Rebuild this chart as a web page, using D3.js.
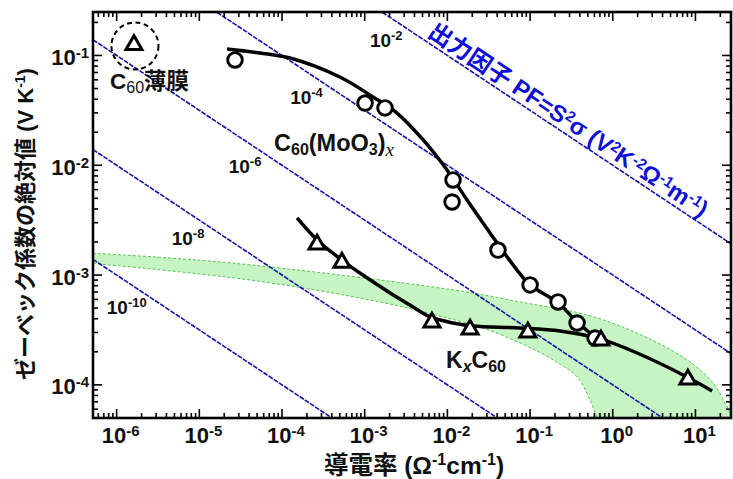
<!DOCTYPE html>
<html>
<head>
<meta charset="utf-8">
<script src="https://cdn.jsdelivr.net/npm/d3@7"></script>
<style>
  html, body { margin: 0; padding: 0; background: #fff; }
  svg { display: block; }
  text { font-family: "Liberation Sans", Arial, "Noto Sans CJK JP", sans-serif; font-weight: bold; }
</style>
</head>
<body>
<svg id="chart" width="733" height="479"></svg>
<script>
// ---- data: conductivity sigma (Ω^-1 cm^-1) vs |Seebeck coefficient| (V/K) ----

// C60(MoO3)x measured points
const mooxSigma   = [2.70e-5, 1.01e-3, 1.76e-3, 0.0117, 0.0114, 0.0409, 0.100, 0.218, 0.370, 0.611];
const mooxSeebeck = [0.091, 0.0369, 0.0333, 7.35e-3, 4.63e-3, 1.69e-3, 8.13e-4, 5.69e-4, 3.66e-4, 2.67e-4];

// C60(MoO3)x guide curve
const mooxFitSigma   = [2.16e-5, 5.4e-5, 1.25e-4, 5.0e-4, 1.26e-3, 2.46e-3, 5.1e-3, 9.9e-3, 0.0173, 0.0328, 0.0695, 0.100, 0.218, 0.370, 0.70];
const mooxFitSeebeck = [0.1146, 0.1054, 0.0948, 0.0637, 0.0419, 0.0299, 0.0170, 9.06e-3, 4.83e-3, 2.42e-3, 1.11e-3, 8.13e-4, 5.57e-4, 3.74e-4, 2.51e-4];

// KxC60 measured points
const kSigma   = [2.65e-4, 5.3e-4, 6.5e-3, 0.0188, 0.094, 0.72, 8.1];
const kSeebeck = [1.90e-3, 1.30e-3, 3.70e-4, 3.20e-4, 3.00e-4, 2.54e-4, 1.12e-4];

// KxC60 guide curve
const kFitSigma   = [1.52e-4, 2.65e-4, 5.3e-4, 9.5e-4, 2.03e-3, 3.85e-3, 6.2e-3, 0.0117, 0.0205, 0.0757, 0.231, 0.70, 1.97, 7.9, 15.9];
const kFitSeebeck = [3.31e-3, 2.09e-3, 1.37e-3, 1.0e-3, 6.87e-4, 5.12e-4, 4.15e-4, 3.66e-4, 3.44e-4, 3.30e-4, 3.10e-4, 2.62e-4, 1.95e-4, 1.18e-4, 8.8e-5];

// pristine C60 film
const filmSigma   = [1.62e-6];
const filmSeebeck = [0.1247];

// shaded region (upper and lower boundaries)
const bandUpperSigma   = [4.5e-7, 4.43e-6, 4.10e-5, 1.53e-3, 0.0204, 0.0755, 0.489, 1.96, 7.91, 16.3, 24.1, 28.5];
const bandUpperSeebeck = [1.59e-3, 1.43e-3, 1.24e-3, 9.02e-4, 6.87e-4, 5.69e-4, 4.33e-4, 2.96e-4, 1.69e-4, 1.04e-4, 6.30e-5, 4.9e-5];
const bandLowerSigma   = [4.5e-7, 4.10e-5, 1.53e-3, 9.9e-3, 0.0248, 0.0755, 0.190, 0.370, 0.531, 0.646];
const bandLowerSeebeck = [1.29e-3, 9.02e-4, 5.69e-4, 4.07e-4, 3.37e-4, 2.41e-4, 1.69e-4, 1.18e-4, 7.28e-5, 4.9e-5];

// power factor iso-lines PF = S^2 sigma (V^2 K^-2 Ω^-1 m^-1)
const pfValues    = [1e-2, 1e-4, 1e-6, 1e-8, 1e-10];
const pfExponents = ["-2", "-4", "-6", "-8", "-10"];

// tick labels
const xTickExps = [-6, -5, -4, -3, -2, -1, 0, 1];
const yTickExps = [-4, -3, -2, -1];

// ---- layout ----
const L = 93, R = 731, T = 12, B = 418;
const svg = d3.select("#chart");

const x = d3.scaleLog().domain([Math.pow(10, -6.286), Math.pow(10, 1.43)]).range([L, R]);
const y = d3.scaleLog().domain([Math.pow(10, -4.302), Math.pow(10, -0.604)]).range([B, T]);

svg.append("defs").append("clipPath").attr("id", "plotClip")
  .append("rect").attr("x", L).attr("y", T).attr("width", R - L).attr("height", B - T);

const plot = svg.append("g").attr("clip-path", "url(#plotClip)");

const toPts = (xs, ys) => xs.map((v, i) => [x(v), y(ys[i])]);
const smooth = d3.line().curve(d3.curveCatmullRom.alpha(0.5));

// text built from runs: [text, baseline shift, size, extra attributes]
function runs(t, parts) {
  let cur = 0;
  parts.forEach(([str, shift, size, extra]) => {
    const s = t.append("tspan").attr("dy", shift - cur).text(str);
    if (size) s.attr("font-size", size);
    if (extra) Object.entries(extra).forEach(([k, v]) => s.attr(k, v));
    cur = shift;
  });
  return t;
}

// shaded region
const upperPts = toPts(bandUpperSigma, bandUpperSeebeck);
const lowerPts = toPts(bandLowerSigma, bandLowerSeebeck);
const upperPath = smooth(upperPts);
const lowerRevPath = smooth(lowerPts.slice().reverse());
plot.append("path")
  .attr("d", upperPath + "L" + lowerRevPath.slice(1) + "Z")
  .attr("fill", "#c6f4c3").attr("stroke", "none");
[upperPath, smooth(lowerPts)].forEach(d => {
  plot.append("path").attr("d", d).attr("fill", "none")
    .attr("stroke", "#58c458").attr("stroke-width", 1).attr("stroke-dasharray", "3,2");
});

// power factor lines: sigma[S/cm] = PF / (100 S^2)
const sigmaOnPF = (pf, s) => pf / (100 * s * s);
const seebeckOnPF = (pf, sg) => Math.sqrt(pf / (100 * sg));
const [xs0, xs1] = x.domain();
pfValues.forEach(pf => {
  plot.append("line")
    .attr("x1", x(xs0)).attr("y1", y(seebeckOnPF(pf, xs0)))
    .attr("x2", x(xs1)).attr("y2", y(seebeckOnPF(pf, xs1)))
    .attr("stroke", "#1414a8").attr("stroke-width", 1.6).attr("stroke-dasharray", "5,1.2");
});

// labels of the power factor lines, set left of each line
const pfLabelSeebeck = [0.138, 0.0419, 9.86e-3, 2.18e-3, 5.12e-4];
pfValues.forEach((pf, i) => {
  const s = pfLabelSeebeck[i];
  const t = svg.append("text")
    .attr("x", x(sigmaOnPF(pf, s)) - 38).attr("y", y(s) + 7)
    .attr("text-anchor", "middle").attr("font-size", 19).attr("fill", "#111");
  runs(t, [["10", 0], [pfExponents[i], -7, 13]]);
});

// title along the PF = 1e-2 line
{
  const pf = pfValues[0];
  const sA = 0.237, sB = 2.0;
  const xA = x(sA), yA = y(seebeckOnPF(pf, sA));
  const xB = x(sB), yB = y(seebeckOnPF(pf, sB));
  const rad = Math.atan2(yB - yA, xB - xA);
  const ang = rad * 180 / Math.PI;
  const off = 5;
  const cx = xA + off * Math.sin(rad), cy = yA - off * Math.cos(rad);
  const fs = 20, sup = 13;
  const t = svg.append("text")
    .attr("transform", `translate(${cx},${cy}) rotate(${ang})`)
    .attr("text-anchor", "middle").attr("font-size", fs).attr("fill", "#0f0fd6");
  runs(t, [
    ["出力因子 PF=S", 0], ["2", -7, sup], ["σ (V", 0], ["2", -7, sup], ["K", 0],
    ["-2", -7, sup], ["Ω", 0], ["-1", -7, sup], ["m", 0], ["-1", -7, sup], [")", 0]
  ]);
  // fit the run to the length of the labelled stretch of line
  const len = t.node().getComputedTextLength();
  const k = 330 / len;
  t.attr("font-size", fs * k);
  t.selectAll("tspan").filter(function () { return this.getAttribute("font-size"); })
    .attr("font-size", sup * k);
}

// guide curves
[[mooxFitSigma, mooxFitSeebeck], [kFitSigma, kFitSeebeck]].forEach(([xs, ys]) => {
  plot.append("path").attr("d", smooth(toPts(xs, ys)))
    .attr("fill", "none").attr("stroke", "#000").attr("stroke-width", 3.5);
});

// markers
const tri = d3.symbol().type(d3.symbolTriangle).size(111);
plot.selectAll("circle.moox").data(toPts(mooxSigma, mooxSeebeck)).join("circle")
  .attr("class", "moox").attr("cx", d => d[0]).attr("cy", d => d[1]).attr("r", 7.3)
  .attr("fill", "#fff").attr("stroke", "#000").attr("stroke-width", 2.9);
plot.selectAll("path.kc60").data(toPts(kSigma, kSeebeck)).join("path")
  .attr("class", "kc60").attr("d", tri).attr("transform", d => `translate(${d[0]},${d[1]})`)
  .attr("fill", "#fff").attr("stroke", "#000").attr("stroke-width", 3).attr("stroke-linejoin", "miter");

// C60 film marker with dashed ring
toPts(filmSigma, filmSeebeck).forEach(p => {
  plot.append("circle").attr("cx", p[0] + 1).attr("cy", p[1] + 1).attr("r", 23.5)
    .attr("fill", "none").attr("stroke", "#000").attr("stroke-width", 2).attr("stroke-dasharray", "5,3.5");
  plot.append("path").attr("d", tri).attr("transform", `translate(${p[0]},${p[1]})`)
    .attr("fill", "#fff").attr("stroke", "#000").attr("stroke-width", 3).attr("stroke-linejoin", "miter");
});

// frame
svg.append("rect").attr("x", L).attr("y", T).attr("width", R - L).attr("height", B - T)
  .attr("fill", "none").attr("stroke", "#000").attr("stroke-width", 2.6);

// inward ticks on all four sides
const tickG = svg.append("g").attr("stroke", "#000").attr("stroke-width", 1.6);
const logTicks = (lo, hi) => {
  const out = [];
  for (let e = Math.floor(Math.log10(lo)); e <= Math.ceil(Math.log10(hi)); e++) {
    for (let m = 1; m <= 9; m++) {
      const v = m * Math.pow(10, e);
      if (v >= lo && v <= hi) out.push({ v, major: m === 1 });
    }
  }
  return out;
};
logTicks(...x.domain()).forEach(t => {
  const px = x(t.v), len = t.major ? 9 : 5;
  tickG.append("line").attr("x1", px).attr("x2", px).attr("y1", B).attr("y2", B - len);
  tickG.append("line").attr("x1", px).attr("x2", px).attr("y1", T).attr("y2", T + len);
});
logTicks(...y.domain()).forEach(t => {
  const py = y(t.v), len = t.major ? 9 : 5;
  tickG.append("line").attr("y1", py).attr("y2", py).attr("x1", L).attr("x2", L + len);
  tickG.append("line").attr("y1", py).attr("y2", py).attr("x1", R).attr("x2", R - len);
});

// tick labels
xTickExps.forEach(e => {
  const t = svg.append("text").attr("x", x(Math.pow(10, e)) + 4).attr("y", 443)
    .attr("text-anchor", "middle").attr("font-size", 22).attr("fill", "#111");
  runs(t, [["10", 0], [e === 0 ? "0" : (e > 0 ? String(e) : "-" + (-e)), -7, 15]]);
});
yTickExps.forEach(e => {
  const t = svg.append("text").attr("x", 89).attr("y", y(Math.pow(10, e)) + 9.5)
    .attr("text-anchor", "end").attr("font-size", 22).attr("fill", "#111");
  runs(t, [["10", 0], ["-" + (-e), -7, 15]]);
});

// axis titles
runs(svg.append("text").attr("x", 414).attr("y", 474)
  .attr("text-anchor", "middle").attr("font-size", 24.5).attr("fill", "#111"),
  [["導電率 (Ω", 0], ["-1", -9, 16], ["cm", 0], ["-1", -9, 16], [")", 0]]);

runs(svg.append("text").attr("transform", "translate(33,224) rotate(-90)")
  .attr("text-anchor", "middle").attr("font-size", 22).attr("fill", "#111"),
  [["ゼーベック係数の絶対値 (V K", 0], ["-1", -8, 14], [")", 0]]);

// series labels
runs(svg.append("text").attr("x", 274).attr("y", 151).attr("font-size", 23.5).attr("fill", "#111"),
  [["C", 0], ["60", 4, 16], ["(MoO", 0], ["3", 4, 16], [")", 0],
   ["x", 5, 19, { "font-style": "italic", "font-weight": "normal",
                  "font-family": "'Liberation Serif', 'Times New Roman', serif" }]]);

runs(svg.append("text").attr("x", 446).attr("y", 368).attr("font-size", 23).attr("fill", "#111"),
  [["K", 0], ["x", 4, 16, { "font-style": "italic" }], ["C", 0], ["60", 4, 16]]);

runs(svg.append("text").attr("x", 110).attr("y", 89).attr("font-size", 22.5).attr("fill", "#111"),
  [["C", 0], ["60", 4, 16, { "font-weight": "normal" }], ["薄膜", 0]]);
</script>
</body>
</html>
